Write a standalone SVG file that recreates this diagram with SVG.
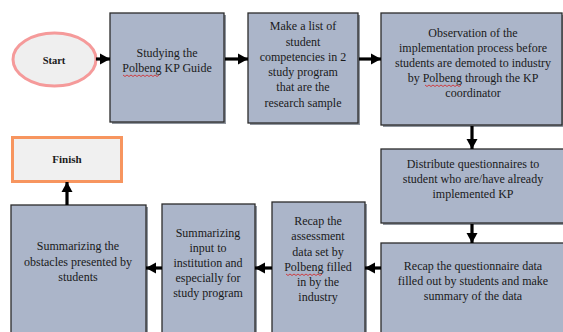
<svg xmlns="http://www.w3.org/2000/svg" width="563" height="332" viewBox="0 0 563 332">
<defs>
<style>
.box{fill:#abb5c9;stroke:#2b2b2b;stroke-width:1.3}
.sh{fill:#8f959e}
text{font-family:'Liberation Serif','DejaVu Serif',serif;font-size:12px;fill:#1a1a1a;text-anchor:middle}
.b{font-weight:bold;font-size:10.5px}
.conn{stroke:#000;stroke-width:3.2;fill:none;marker-end:url(#ah)}
.sq{stroke:#d42020;stroke-width:0.8;fill:none}
</style>
<marker id="ah" markerUnits="userSpaceOnUse" markerWidth="12" markerHeight="12" refX="10" refY="6" orient="auto">
<path d="M0,0.5 L10,6 L0,11.5 Z" fill="#000"/>
</marker>
</defs>
<rect width="563" height="332" fill="#fff"/>

<g id="start">
<ellipse cx="54.5" cy="59.5" rx="41.5" ry="26.5" fill="#efefef" stroke="#f59a9a" stroke-width="3"/>
<text class="b" x="54" y="64">Start</text>
</g>

<g id="n1">
<rect class="sh" x="112" y="15" width="114" height="109"/>
<rect class="box" x="110" y="13" width="114" height="109"/>
<text x="167" y="57">Studying the</text>
<text x="167" y="72">Polbeng KP Guide</text>
<path class="sq" d="M123,75 l2,1.5 2,-1.5 2,1.5 2,-1.5 2,1.5 2,-1.5 2,1.5 2,-1.5 2,1.5 2,-1.5 2,1.5 2,-1.5 2,1.5 2,-1.5 2,1.5 2,-1.5 2,1.5 2,-1.5"/>
</g>

<g id="n2">
<rect class="sh" x="250" y="15" width="110" height="110"/>
<rect class="box" x="248" y="13" width="110" height="110"/>
<text x="303" y="30">Make a list of</text>
<text x="303" y="46">student</text>
<text x="303" y="61">competencies in 2</text>
<text x="303" y="76">study program</text>
<text x="303" y="91">that are the</text>
<text x="303" y="107">research sample</text>
</g>

<g id="n3">
<rect class="sh" x="383" y="15" width="181" height="112"/>
<rect class="box" x="381" y="13" width="181" height="112"/>
<text x="473" y="37">Observation of the</text>
<text x="473" y="52">implementation process before</text>
<text x="473" y="67">students are demoted to industry</text>
<text x="473" y="82">by Polbeng through the KP</text>
<text x="473" y="97">coordinator</text>
<path class="sq" d="M425,85 l2,1.5 2,-1.5 2,1.5 2,-1.5 2,1.5 2,-1.5 2,1.5 2,-1.5 2,1.5 2,-1.5 2,1.5 2,-1.5 2,1.5 2,-1.5 2,1.5 2,-1.5 2,1.5 2,-1.5"/>
</g>

<g id="n4">
<rect class="sh" x="383" y="151" width="190" height="74"/>
<rect class="box" x="381" y="149" width="190" height="74"/>
<text x="473" y="168">Distribute questionnaires to</text>
<text x="473" y="183">student who are/have already</text>
<text x="473" y="198">implemented KP</text>
</g>

<g id="n5">
<rect class="sh" x="383" y="245" width="190" height="100"/>
<rect class="box" x="381" y="243" width="190" height="100"/>
<text x="473" y="270">Recap the questionnaire data</text>
<text x="473" y="285">filled out by students and make</text>
<text x="473" y="300">summary of the data</text>
</g>

<g id="n6">
<rect class="sh" x="274" y="204" width="93" height="140"/>
<rect class="box" x="272" y="202" width="93" height="140"/>
<text x="318" y="225">Recap the</text>
<text x="318" y="240">assessment</text>
<text x="318" y="256">data set by</text>
<text x="318" y="271">Polbeng filled</text>
<text x="318" y="286">in by the</text>
<text x="318" y="301">industry</text>
<path class="sq" d="M286,274 l2,1.5 2,-1.5 2,1.5 2,-1.5 2,1.5 2,-1.5 2,1.5 2,-1.5 2,1.5 2,-1.5 2,1.5 2,-1.5 2,1.5 2,-1.5 2,1.5 2,-1.5 2,1.5 2,-1.5"/>
</g>

<g id="n7">
<rect class="sh" x="164" y="206" width="93" height="140"/>
<rect class="box" x="162" y="204" width="93" height="140"/>
<text x="208" y="237">Summarizing</text>
<text x="208" y="252">input to</text>
<text x="208" y="267">institution and</text>
<text x="208" y="282">especially for</text>
<text x="208" y="297">study program</text>
</g>

<g id="n8">
<rect class="sh" x="13" y="207" width="135" height="140"/>
<rect class="box" x="11" y="205" width="135" height="140"/>
<text x="78" y="250">Summarizing the</text>
<text x="78" y="266">obstacles presented by</text>
<text x="78" y="281">students</text>
</g>

<g id="finish">
<rect x="12.5" y="137.5" width="109" height="44" fill="#f0f0f0" stroke="#f7955f" stroke-width="3"/>
<text class="b" x="67" y="163" style="font-size:11px">Finish</text>
</g>

<g id="connectors">
<line class="conn" x1="96" y1="59" x2="110" y2="59"/>
<line class="conn" x1="225" y1="59" x2="248" y2="59"/>
<line class="conn" x1="359" y1="59" x2="381" y2="59"/>
<line class="conn" x1="472" y1="126" x2="472" y2="149"/>
<line class="conn" x1="472" y1="224" x2="472" y2="243"/>
<line class="conn" x1="381" y1="268" x2="365" y2="268"/>
<line class="conn" x1="272" y1="268" x2="255" y2="268"/>
<line class="conn" x1="162" y1="268" x2="146" y2="268"/>
<line class="conn" x1="67" y1="205" x2="67" y2="182"/>
</g>
</svg>
